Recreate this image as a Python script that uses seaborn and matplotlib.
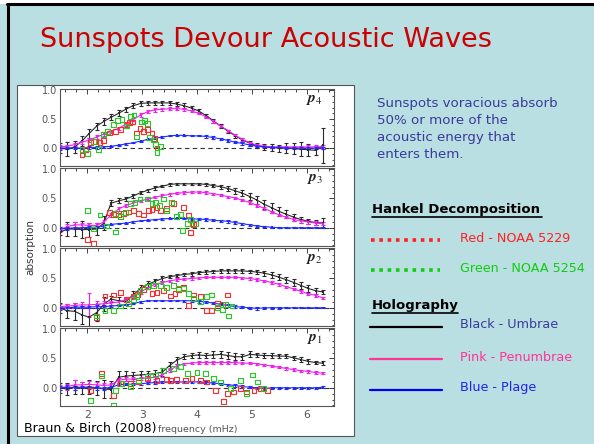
import numpy as np
import pandas as pd
import matplotlib
matplotlib.use("Agg")
import matplotlib.pyplot as plt
from matplotlib.lines import Line2D
from matplotlib.patches import Rectangle
from matplotlib.ticker import MultipleLocator
import seaborn as sns

sns.set_style("white")
plt.rcParams["font.family"] = ["DejaVu Sans"]
plt.rcParams["mathtext.fontset"] = "stix"

# ---------------------------------------------------------------- data
FREQ = [1.50, 1.63, 1.77, 1.90, 2.03, 2.17, 2.30, 2.43, 2.57, 2.70, 2.83, 2.97,
        3.10, 3.23, 3.37, 3.50, 3.63, 3.77, 3.90, 4.03, 4.17, 4.30, 4.43, 4.57,
        4.70, 4.83, 4.97, 5.10, 5.23, 5.37, 5.50, 5.63, 5.77, 5.90, 6.03, 6.17, 6.30]

MODES = ["p4", "p3", "p2", "p1"]
MODE_LABELS = [r"$\boldsymbol{p}_4$", r"$\boldsymbol{p}_3$", r"$\boldsymbol{p}_2$", r"$\boldsymbol{p}_1$"]

# Holography: umbrae (black)
umbra_p4 = [0.00, -0.02, 0.02, 0.12, 0.25, 0.38, 0.46, 0.53, 0.60, 0.67, 0.73, 0.77,
            0.78, 0.78, 0.78, 0.78, 0.76, 0.73, 0.69, 0.64, 0.56, 0.47, 0.38, 0.29,
            0.21, 0.14, 0.08, 0.04, 0.02, 0.01, 0.00, 0.00, -0.01, -0.02, -0.03, -0.04, 0.05]
umbra_p3 = [-0.08, -0.02, -0.02, -0.03, -0.03, -0.02, 0.08, 0.42, 0.46, 0.49, 0.54, 0.60,
            0.64, 0.68, 0.71, 0.74, 0.75, 0.75, 0.75, 0.75, 0.74, 0.72, 0.70, 0.67,
            0.63, 0.59, 0.53, 0.47, 0.40, 0.34, 0.28, 0.23, 0.18, 0.14, 0.11, 0.09, 0.08]
umbra_p2 = [0.00, -0.05, -0.06, -0.12, -0.16, -0.08, 0.06, 0.15, 0.12, 0.10, 0.22, 0.33,
            0.40, 0.45, 0.50, 0.53, 0.55, 0.57, 0.58, 0.60, 0.61, 0.62, 0.63, 0.63,
            0.63, 0.63, 0.62, 0.61, 0.59, 0.56, 0.52, 0.48, 0.43, 0.38, 0.33, 0.29, 0.27]
umbra_p1 = [0.00, -0.02, 0.02, 0.00, 0.02, 0.00, -0.02, -0.03, 0.18, 0.20, 0.21, 0.22,
            0.23, 0.24, 0.27, 0.38, 0.47, 0.53, 0.55, 0.56, 0.55, 0.56, 0.57, 0.55,
            0.53, 0.53, 0.57, 0.56, 0.55, 0.55, 0.54, 0.54, 0.51, 0.48, 0.45, 0.43, 0.42]

umbra_err_p4 = [0.08, 0.12, 0.10, 0.08, 0.08, 0.06, 0.06, 0.05, 0.05, 0.04, 0.04, 0.04,
                0.04, 0.04, 0.04, 0.04, 0.04, 0.04, 0.03, 0.03, 0.03, 0.03, 0.03, 0.03,
                0.04, 0.04, 0.04, 0.04, 0.05, 0.06, 0.06, 0.08, 0.10, 0.12, 0.10, 0.08, 0.30]
umbra_err_p3 = [0.05, 0.12, 0.12, 0.15, 0.12, 0.10, 0.12, 0.05, 0.04, 0.04, 0.04, 0.03,
                0.03, 0.03, 0.02, 0.02, 0.02, 0.02, 0.02, 0.02, 0.03, 0.03, 0.03, 0.04,
                0.05, 0.05, 0.06, 0.07, 0.08, 0.08, 0.08, 0.07, 0.06, 0.05, 0.04, 0.04, 0.08]
umbra_err_p2 = [0.08, 0.12, 0.15, 0.15, 0.15, 0.15, 0.12, 0.05, 0.06, 0.06, 0.06, 0.06,
                0.05, 0.04, 0.04, 0.03, 0.03, 0.03, 0.03, 0.03, 0.03, 0.03, 0.03, 0.03,
                0.03, 0.03, 0.03, 0.04, 0.04, 0.05, 0.05, 0.05, 0.06, 0.06, 0.06, 0.05, 0.04]
umbra_err_p1 = [0.08, 0.10, 0.12, 0.10, 0.12, 0.12, 0.15, 0.15, 0.10, 0.08, 0.06, 0.06,
                0.06, 0.06, 0.06, 0.06, 0.06, 0.04, 0.04, 0.05, 0.05, 0.06, 0.06, 0.06,
                0.06, 0.05, 0.05, 0.04, 0.04, 0.04, 0.04, 0.04, 0.04, 0.04, 0.04, 0.03, 0.03]

# Holography: penumbrae (pink)
penumbra_p4 = [0.02, 0.03, 0.06, 0.10, 0.14, 0.19, 0.24, 0.29, 0.34, 0.41, 0.49, 0.57,
               0.63, 0.66, 0.67, 0.68, 0.68, 0.67, 0.64, 0.60, 0.54, 0.46, 0.38, 0.30,
               0.22, 0.15, 0.09, 0.05, 0.03, 0.02, 0.02, 0.02, 0.02, 0.02, 0.02, 0.02, 0.02]
penumbra_p3 = [-0.03, 0.02, 0.05, 0.05, 0.04, 0.04, 0.10, 0.22, 0.32, 0.38, 0.42, 0.46,
               0.49, 0.52, 0.55, 0.57, 0.59, 0.60, 0.61, 0.61, 0.60, 0.58, 0.56, 0.53,
               0.51, 0.47, 0.43, 0.38, 0.33, 0.27, 0.22, 0.18, 0.14, 0.12, 0.10, 0.08, 0.07]
penumbra_p2 = [0.02, 0.03, 0.04, 0.05, 0.05, 0.06, 0.07, 0.08, 0.10, 0.14, 0.20, 0.27,
               0.34, 0.40, 0.43, 0.46, 0.48, 0.49, 0.50, 0.51, 0.52, 0.52, 0.52, 0.52,
               0.52, 0.51, 0.50, 0.48, 0.46, 0.43, 0.40, 0.36, 0.32, 0.28, 0.24, 0.21, 0.17]
penumbra_p1 = [0.00, 0.02, 0.05, 0.05, 0.06, 0.05, 0.04, 0.05, 0.13, 0.15, 0.15, 0.16,
               0.17, 0.18, 0.22, 0.30, 0.37, 0.41, 0.42, 0.43, 0.43, 0.43, 0.43, 0.43,
               0.43, 0.42, 0.42, 0.41, 0.39, 0.37, 0.35, 0.33, 0.31, 0.29, 0.28, 0.26, 0.25]

penumbra_err_p4 = [0.03, 0.03, 0.03, 0.03, 0.03, 0.03, 0.03, 0.03, 0.03, 0.03, 0.03, 0.03,
                   0.03, 0.03, 0.03, 0.03, 0.03, 0.03, 0.02, 0.02, 0.02, 0.02, 0.02, 0.02,
                   0.02, 0.02, 0.02, 0.02, 0.02, 0.02, 0.02, 0.02, 0.02, 0.02, 0.03, 0.03, 0.03]
penumbra_err_p3 = [0.04, 0.04, 0.05, 0.04, 0.04, 0.04, 0.03, 0.03, 0.03, 0.03, 0.03, 0.02,
                   0.02, 0.02, 0.02, 0.02, 0.02, 0.02, 0.02, 0.02, 0.02, 0.02, 0.02, 0.02,
                   0.02, 0.02, 0.02, 0.02, 0.02, 0.02, 0.02, 0.02, 0.02, 0.03, 0.03, 0.03, 0.03]
penumbra_err_p2 = [0.04, 0.04, 0.05, 0.05, 0.20, 0.06, 0.05, 0.04, 0.03, 0.03, 0.03, 0.03,
                   0.02, 0.02, 0.02, 0.02, 0.02, 0.02, 0.02, 0.02, 0.02, 0.02, 0.02, 0.02,
                   0.02, 0.02, 0.02, 0.02, 0.02, 0.02, 0.02, 0.02, 0.02, 0.02, 0.02, 0.02, 0.02]
penumbra_err_p1 = [0.04, 0.05, 0.08, 0.05, 0.05, 0.05, 0.05, 0.04, 0.03, 0.03, 0.03, 0.03,
                   0.03, 0.03, 0.03, 0.03, 0.03, 0.02, 0.02, 0.02, 0.02, 0.02, 0.02, 0.03,
                   0.03, 0.02, 0.02, 0.02, 0.02, 0.02, 0.02, 0.02, 0.02, 0.02, 0.02, 0.02, 0.02]

# Holography: plage (blue)
plage_p4 = [0.00, 0.00, 0.00, 0.00, 0.01, 0.01, 0.02, 0.03, 0.05, 0.07, 0.09, 0.12,
            0.15, 0.17, 0.19, 0.21, 0.22, 0.22, 0.21, 0.21, 0.20, 0.18, 0.16, 0.13,
            0.10, 0.08, 0.05, 0.03, 0.02, 0.01, 0.01, 0.00, 0.00, 0.00, 0.00, 0.00, 0.00]
plage_p3 = [-0.02, -0.01, 0.00, 0.00, 0.01, 0.01, 0.03, 0.06, 0.07, 0.08, 0.10, 0.12,
            0.13, 0.14, 0.15, 0.16, 0.16, 0.16, 0.15, 0.15, 0.14, 0.13, 0.12, 0.11,
            0.09, 0.07, 0.05, 0.03, 0.02, 0.01, 0.00, 0.00, 0.00, 0.00, 0.00, 0.00, 0.00]
plage_p2 = [0.00, 0.00, 0.01, 0.01, 0.01, 0.02, 0.02, 0.03, 0.04, 0.05, 0.07, 0.10,
            0.12, 0.12, 0.12, 0.12, 0.12, 0.12, 0.12, 0.11, 0.10, 0.08, 0.06, 0.04,
            0.02, 0.01, 0.00, -0.01, 0.00, 0.00, 0.00, 0.00, 0.00, 0.00, 0.00, 0.00, 0.00]
plage_p1 = [0.00, 0.01, 0.00, 0.01, 0.00, 0.00, -0.01, 0.01, 0.05, 0.06, 0.06, 0.07,
            0.08, 0.09, 0.10, 0.10, 0.10, 0.10, 0.10, 0.10, 0.09, 0.08, 0.07, 0.05,
            0.04, 0.02, 0.01, 0.00, -0.01, 0.00, 0.00, 0.00, 0.00, 0.00, 0.00, 0.00, 0.01]

plage_err_p4 = [0.03, 0.02, 0.02, 0.02, 0.02, 0.02, 0.02, 0.01, 0.01, 0.01, 0.01, 0.01,
                0.01, 0.01, 0.01, 0.01, 0.01, 0.01, 0.01, 0.01, 0.02, 0.02, 0.02, 0.02,
                0.02, 0.02, 0.02, 0.01, 0.01, 0.01, 0.01, 0.01, 0.01, 0.01, 0.02, 0.02, 0.02]
plage_err_p3 = [0.03, 0.02, 0.02, 0.02, 0.02, 0.02, 0.02, 0.01, 0.01, 0.01, 0.01, 0.01,
                0.01, 0.01, 0.01, 0.01, 0.01, 0.01, 0.02, 0.02, 0.02, 0.02, 0.02, 0.02,
                0.03, 0.02, 0.02, 0.01, 0.01, 0.01, 0.01, 0.01, 0.01, 0.01, 0.01, 0.01, 0.01]
plage_err_p2 = [0.03, 0.03, 0.02, 0.02, 0.02, 0.02, 0.02, 0.01, 0.01, 0.01, 0.01, 0.01,
                0.01, 0.01, 0.01, 0.01, 0.01, 0.02, 0.02, 0.02, 0.02, 0.02, 0.02, 0.02,
                0.02, 0.02, 0.02, 0.02, 0.02, 0.02, 0.02, 0.01, 0.01, 0.01, 0.01, 0.01, 0.01]
plage_err_p1 = [0.03, 0.03, 0.03, 0.02, 0.02, 0.03, 0.03, 0.02, 0.02, 0.02, 0.02, 0.02,
                0.02, 0.02, 0.02, 0.02, 0.02, 0.02, 0.02, 0.02, 0.02, 0.02, 0.02, 0.02,
                0.02, 0.02, 0.02, 0.02, 0.02, 0.02, 0.02, 0.02, 0.02, 0.02, 0.02, 0.02, 0.02]

# Hankel decomposition: NOAA 5229 (red) and NOAA 5254 (green)
red_f_p4 = [1.90, 1.96, 2.05, 2.14, 2.23, 2.29, 2.41, 2.51, 2.60, 2.71, 2.77, 2.83,
            2.90, 2.96, 3.02, 3.09, 3.18, 3.22, 3.27]
red_v_p4 = [-0.12, -0.03, 0.09, 0.12, 0.09, 0.13, 0.26, 0.28, 0.32, 0.40, 0.44, 0.45,
            0.26, 0.34, 0.29, 0.32, 0.26, 0.16, 0.00]
green_f_p4 = [1.90, 2.00, 2.11, 2.20, 2.29, 2.37, 2.48, 2.55, 2.63, 2.71, 2.79, 2.85,
              2.90, 2.98, 3.04, 3.10, 3.13, 3.20, 3.24, 3.27, 3.33]
green_v_p4 = [-0.03, -0.10, 0.12, -0.03, 0.24, 0.29, 0.41, 0.47, 0.49, 0.38, 0.55, 0.57,
              0.19, 0.45, 0.47, 0.43, 0.18, 0.14, 0.06, -0.08, 0.02]

red_f_p3 = [2.00, 2.11, 2.41, 2.48, 2.57, 2.66, 2.75, 2.84, 2.93, 3.02, 3.12, 3.18,
            3.27, 3.33, 3.45, 3.57, 3.76, 3.85, 3.91, 3.94, 3.88]
red_v_p3 = [-0.20, -0.27, 0.26, 0.23, 0.22, 0.24, 0.27, 0.29, 0.24, 0.22, 0.30, 0.31,
            0.34, 0.30, 0.33, 0.41, 0.35, 0.22, 0.08, 0.05, -0.08]
green_f_p3 = [2.00, 2.11, 2.23, 2.35, 2.51, 2.52, 2.61, 2.69, 2.78, 2.87, 2.96, 3.09,
              3.18, 3.24, 3.32, 3.39, 3.45, 3.54, 3.63, 3.70, 3.73, 3.82, 3.88, 3.97]
green_v_p3 = [0.29, -0.02, 0.22, 0.03, -0.07, 0.24, 0.19, 0.26, 0.41, 0.43, 0.49, 0.49,
              0.41, 0.43, 0.38, 0.49, 0.30, 0.43, 0.19, 0.23, -0.04, 0.08, 0.14, 0.08]

red_f_p2 = [2.17, 2.32, 2.48, 2.60, 2.72, 2.84, 2.91, 3.02, 3.18, 3.27, 3.39, 3.51,
            3.60, 3.66, 3.76, 3.85, 3.94, 4.06, 4.18, 4.27, 4.37, 4.46, 4.55]
red_v_p2 = [-0.16, 0.20, 0.22, 0.26, 0.14, 0.19, 0.23, 0.31, 0.24, 0.26, 0.30, 0.20,
            0.24, 0.31, 0.35, 0.04, 0.22, 0.19, -0.04, -0.05, 0.08, 0.05, 0.22]
green_f_p2 = [2.17, 2.32, 2.48, 2.60, 2.75, 2.84, 2.90, 2.96, 3.09, 3.21, 3.33, 3.45,
              3.57, 3.66, 3.76, 3.85, 3.94, 4.06, 4.18, 4.27, 4.37, 4.46, 4.52, 4.58, 4.64]
green_v_p2 = [-0.14, -0.05, -0.04, 0.03, 0.08, 0.14, 0.19, 0.30, 0.36, 0.38, 0.38, 0.35,
              0.38, 0.33, 0.33, 0.24, 0.16, 0.11, 0.19, 0.22, 0.00, -0.03, 0.05, -0.14, 0.03]

red_f_p1 = [2.05, 2.26, 2.48, 2.60, 2.78, 2.93, 3.09, 3.27, 3.45, 3.51, 3.63, 3.79,
            3.91, 4.06, 4.18, 4.34, 4.49, 4.55, 4.67, 4.79, 4.91, 5.04, 5.16, 5.28]
red_v_p1 = [-0.04, 0.24, -0.13, 0.07, 0.07, 0.10, 0.16, 0.13, 0.14, 0.13, 0.14, 0.13,
            0.16, 0.13, 0.10, -0.04, -0.24, -0.10, -0.07, -0.01, -0.07, -0.04, -0.01, -0.04]
green_f_p1 = [2.05, 2.26, 2.48, 2.51, 2.63, 2.78, 2.93, 3.09, 3.24, 3.39, 3.57, 3.70,
              3.82, 4.00, 4.15, 4.30, 4.43, 4.61, 4.79, 4.91, 5.01, 5.10, 5.22]
green_v_p1 = [-0.21, 0.20, -0.30, -0.04, 0.07, 0.02, 0.13, 0.20, 0.22, 0.30, 0.33, 0.36,
              0.24, 0.26, 0.24, 0.16, 0.10, -0.01, 0.13, -0.10, 0.22, 0.10, -0.01]

HOLO = {
    "p4": [(umbra_p4, umbra_err_p4), (penumbra_p4, penumbra_err_p4), (plage_p4, plage_err_p4)],
    "p3": [(umbra_p3, umbra_err_p3), (penumbra_p3, penumbra_err_p3), (plage_p3, plage_err_p3)],
    "p2": [(umbra_p2, umbra_err_p2), (penumbra_p2, penumbra_err_p2), (plage_p2, plage_err_p2)],
    "p1": [(umbra_p1, umbra_err_p1), (penumbra_p1, penumbra_err_p1), (plage_p1, plage_err_p1)],
}
HANKEL = {
    "p4": [(red_f_p4, red_v_p4), (green_f_p4, green_v_p4)],
    "p3": [(red_f_p3, red_v_p3), (green_f_p3, green_v_p3)],
    "p2": [(red_f_p2, red_v_p2), (green_f_p2, green_v_p2)],
    "p1": [(red_f_p1, red_v_p1), (green_f_p1, green_v_p1)],
}

HOLO_COLORS = ["#2a2a2a", "#f020f0", "#1f2bff"]
HANKEL_COLORS = ["#ff2a2a", "#22cc22"]

# ---------------------------------------------------------------- figure
W, H = 594, 444
SLIDE_BG = "#badfe3"
fig = plt.figure(figsize=(W / 100, H / 100), dpi=100)
fig.patch.set_facecolor(SLIDE_BG)


def fx(x):
    return x / W


def fy(y):
    return 1 - y / H


# slide frame
fig.add_artist(Rectangle((0, fy(4)), 1, 4 / H, transform=fig.transFigure,
                         facecolor="white", edgecolor="none", zorder=-2))
fig.add_artist(Line2D([fx(7.5), fx(7.5)], [fy(4.5), 0], transform=fig.transFigure,
                      color="black", lw=2.2, zorder=-1))
fig.add_artist(Line2D([fx(6.5), 1], [fy(4.5), fy(4.5)], transform=fig.transFigure,
                      color="black", lw=2.2, zorder=-1))

# white figure panel
fig.add_artist(Rectangle((fx(17), fy(436)), (354 - 17) / W, (436 - 85) / H,
                         transform=fig.transFigure, facecolor="white",
                         edgecolor="#555555", lw=0.8, zorder=-1))

fig.text(fx(266), fy(40), "Sunspots Devour Acoustic Waves", color="#cc0000",
         fontsize=19.5, ha="center", va="center")

# stacked absorption panels
AX_LEFT, AX_RIGHT = 60, 334
panel_rows = [(89, 166), (168, 246), (248, 326), (328, 406)]
axes = []
for (top, bottom) in panel_rows:
    ax = fig.add_axes([fx(AX_LEFT), fy(bottom), (AX_RIGHT - AX_LEFT) / W, (bottom - top) / H])
    ax.set_zorder(1)
    axes.append(ax)

for ax, mode, label in zip(axes, MODES, MODE_LABELS):
    ax.set_facecolor("white")
    ax.axhline(0, color="#333333", lw=0.8, ls=(0, (4, 3)), zorder=1)
    for (vals, errs), col in zip(HOLO[mode], HOLO_COLORS):
        ax.errorbar(FREQ, vals, yerr=errs, fmt="none", ecolor=col, elinewidth=0.8,
                    capsize=1.5, capthick=0.8, zorder=2)
        sns.lineplot(x=FREQ, y=vals, ax=ax, color=col, lw=0.8, marker="s",
                     markersize=1.8, markeredgewidth=0, zorder=3)
    for (fr, vals), col in zip(HANKEL[mode], HANKEL_COLORS):
        sns.scatterplot(x=fr, y=vals, ax=ax, marker="s", s=12, linewidth=0.8, zorder=4)
        pts = ax.collections[-1]
        pts.set_facecolor("none")
        pts.set_edgecolor(col)
        pts.set_linewidth(0.8)
    ax.set_xlim(1.5, 6.5)
    ax.set_ylim(-0.31, 1.02)
    ax.xaxis.set_major_locator(MultipleLocator(1))
    ax.xaxis.set_minor_locator(MultipleLocator(0.2))
    ax.yaxis.set_major_locator(MultipleLocator(0.5))
    ax.yaxis.set_minor_locator(MultipleLocator(0.1))
    ax.set_yticks([0.0, 0.5, 1.0])
    ax.set_yticklabels(["0.0", "0.5", "1.0"])
    ax.tick_params(which="both", direction="in", top=True, right=True,
                   colors="#444444", labelcolor="#555555", labelsize=7, width=0.7)
    ax.tick_params(which="major", length=3.5)
    ax.tick_params(which="minor", length=1.8)
    ax.tick_params(axis="y", pad=2)
    for sp in ax.spines.values():
        sp.set_color("#555555")
        sp.set_linewidth(0.8)
    ax.set_xlabel("")
    ax.set_ylabel("")
    ax.text(0.96, 0.86, label, transform=ax.transAxes, ha="right", va="center",
            fontsize=11, color="#222222")
    if ax is not axes[-1]:
        ax.tick_params(axis="x", labelbottom=False)

axes[-1].tick_params(axis="x", labelsize=7.8, pad=3)
fig.text(fx(30), fy(247), "absorption", rotation=90, ha="center", va="center",
         fontsize=7.5, color="#333333")
fig.text(fx(24), fy(428), "Braun & Birch (2008)", fontsize=9, color="black",
         ha="left", va="center")
fig.text(fx(158), fy(429), "frequency (mHz)", fontsize=6.8, color="#555555",
         ha="left", va="center")

# explanatory text, one line at a time
body_lines = ["Sunspots voracious absorb", "50% or more of the",
              "acoustic energy that", "enters them."]
for i, line in enumerate(body_lines):
    fig.text(fx(377), fy(103 + 17 * i), line, fontsize=9.6, color="#3a3a9a",
             ha="left", va="center")


def heading(x, y, s, width_px):
    fig.text(fx(x), fy(y), s, fontsize=9.5, fontweight="bold", color="black",
             ha="left", va="center")
    fig.add_artist(Line2D([fx(x), fx(x + width_px)], [fy(y + 8), fy(y + 8)],
                          transform=fig.transFigure, color="black", lw=1.2))


heading(372, 209, "Hankel Decomposition", 170)
heading(372, 305, "Holography", 86)

key_rows = [
    (240, "Red - NOAA 5229", "#ff2020", "#ff2020", "dot"),
    (270, "Green - NOAA 5254", "#11cc11", "#11cc11", "dot"),
    (327, "Black - Umbrae", "#000000", "#3a3a9a", "solid"),
    (359, "Pink - Penumbrae", "#ff3399", "#ff3399", "solid"),
    (390, "Blue - Plage", "#0000ee", "#2222ee", "solid"),
]
for y, txt, lcol, tcol, style in key_rows:
    if style == "dot":
        fig.add_artist(Line2D([fx(371), fx(440)], [fy(y), fy(y)], transform=fig.transFigure,
                              color=lcol, lw=2.6, ls=(0, (1, 1.3))))
    else:
        fig.add_artist(Line2D([fx(370), fx(442)], [fy(y), fy(y)], transform=fig.transFigure,
                              color=lcol, lw=1.6))
    fig.text(fx(460), fy(y - 2), txt, fontsize=9.2, color=tcol, ha="left", va="center")

fig.savefig("out.png", dpi=100, facecolor=fig.get_facecolor())
